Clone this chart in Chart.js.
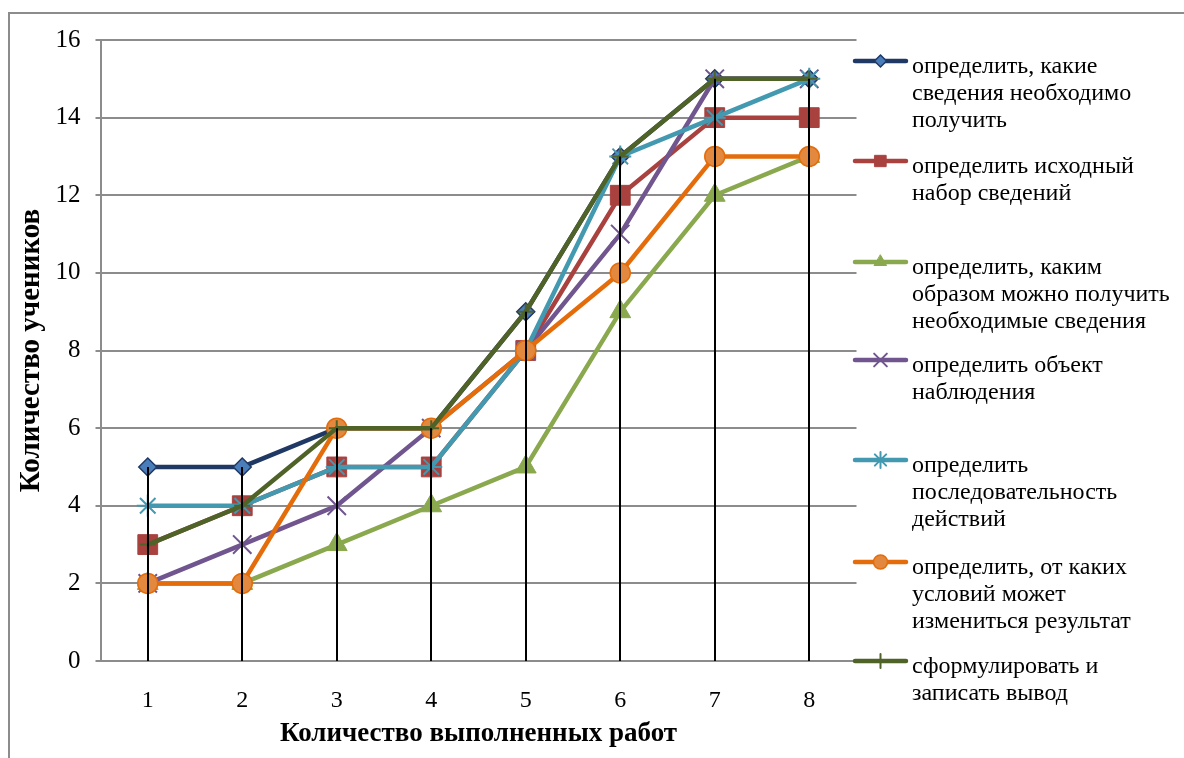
<!DOCTYPE html>
<html><head><meta charset="utf-8">
<script src="https://cdn.jsdelivr.net/npm/chart.js@4.4.0/dist/chart.umd.min.js"></script>
<style>
html,body{margin:0;padding:0;background:#fff;width:1184px;height:758px;overflow:hidden}
#frame{position:absolute;left:8px;top:12px;width:1300px;height:900px;border-left:2px solid #8c8c8c;border-top:2px solid #8c8c8c;}
canvas{position:absolute;left:0;top:0}
</style></head><body>
<div id="frame"></div>
<canvas id="c" width="1184" height="758"></canvas>
<script>
const categories = ['1','2','3','4','5','6','7','8'];
const yTicks = [0,2,4,6,8,10,12,14,16];
const sInfoNeeded   = [5,5,6,6,9,13,15,15];
const sInitialSet   = [3,4,5,5,8,12,14,14];
const sHowToGet     = [2,2,3,4,5,9,12,13];
const sObject       = [2,3,4,6,8,11,15,15];
const sSequence     = [4,4,5,5,8,13,14,15];
const sConditions   = [2,2,6,6,8,10,13,13];
const sConclusion   = [3,4,6,6,9,13,15,15];
const seriesNames = [
  ['определить, какие','сведения необходимо','получить'],
  ['определить исходный','набор сведений'],
  ['определить, каким','образом можно получить','необходимые сведения'],
  ['определить объект','наблюдения'],
  ['определить','последовательность','действий'],
  ['определить, от каких','условий может','измениться результат'],
  ['сформулировать и','записать вывод']
];
const xTitle = 'Количество выполненных работ';
const yTitle = 'Количество учеников';

const allSeries = [sInfoNeeded,sInitialSet,sHowToGet,sObject,sSequence,sConditions,sConclusion];
const styles = [
  {line:'#1F3864', fill:'#4A7EBB', stroke:'#1F3864', pt:'rectRot', r:9, bw:1.5, lr:6},
  {line:'#A9423F', fill:'#A9423F', stroke:'#A9423F', pt:'rect', r:14, bw:1, lr:8},
  {line:'#8AA84D', fill:'#8AA84D', stroke:'#8AA84D', pt:'triangle', r:12, bw:1, lr:7},
  {line:'#70558F', fill:'#70558F', stroke:'#70558F', pt:'crossRot', r:13, bw:2, lr:9},
  {line:'#4399B0', fill:'#4399B0', stroke:'#4399B0', pt:'star', r:11, bw:2, lr:8},
  {line:'#E46C0A', fill:'#E2893F', stroke:'#E46C0A', pt:'circle', r:10, bw:1.5, lr:7},
  {line:'#4F6228', fill:'#4F6228', stroke:'#4F6228', pt:'cross', r:8, bw:2, lr:7}
];
const legendFirstLine = [67,167,268,366,466,568,667];

function drawMarker(ctx, st, x, y, r) {
  ctx.save();
  ctx.fillStyle = st.fill; ctx.strokeStyle = st.stroke; ctx.lineWidth = st.bw;
  ctx.beginPath();
  const q = r*Math.SQRT1_2;
  switch (st.pt) {
    case 'rectRot': ctx.moveTo(x-r,y);ctx.lineTo(x,y-r);ctx.lineTo(x+r,y);ctx.lineTo(x,y+r);ctx.closePath();ctx.fill();ctx.stroke();break;
    case 'rect': ctx.rect(x-q,y-q,2*q,2*q);ctx.fill();ctx.stroke();break;
    case 'triangle': ctx.moveTo(x,y-r);ctx.lineTo(x+r*0.87,y+r*0.5);ctx.lineTo(x-r*0.87,y+r*0.5);ctx.closePath();ctx.fill();ctx.stroke();break;
    case 'circle': ctx.arc(x,y,r,0,Math.PI*2);ctx.fill();ctx.stroke();break;
    case 'crossRot': ctx.moveTo(x-q,y-q);ctx.lineTo(x+q,y+q);ctx.moveTo(x+q,y-q);ctx.lineTo(x-q,y+q);ctx.stroke();break;
    case 'star': ctx.moveTo(x-q,y-q);ctx.lineTo(x+q,y+q);ctx.moveTo(x+q,y-q);ctx.lineTo(x-q,y+q);ctx.moveTo(x,y-r);ctx.lineTo(x,y+r);ctx.stroke();break;
    case 'cross': ctx.moveTo(x,y-r);ctx.lineTo(x,y+r);ctx.moveTo(x-r,y);ctx.lineTo(x+r,y);ctx.stroke();break;
  }
  ctx.restore();
}

const dropLines = {
  id:'dropLines',
  afterDatasetsDraw(chart){
    const {ctx, scales:{x,y}} = chart;
    ctx.save(); ctx.strokeStyle='#000'; ctx.lineWidth=2;
    categories.forEach((c,i)=>{
      const m = Math.max(...allSeries.map(s=>s[i]));
      const px = Math.round(x.getPixelForValue(i));
      ctx.beginPath(); ctx.moveTo(px, y.getPixelForValue(m)); ctx.lineTo(px, y.getPixelForValue(0)); ctx.stroke();
    });
    ctx.restore();
  }
};

const legendPlugin = {
  id:'customLegend',
  afterDraw(chart){
    const ctx = chart.ctx;
    ctx.save();
    seriesNames.forEach((lines,i)=>{
      const st = styles[i];
      const base = legendFirstLine[i] + 6;
      const my = base - 12;
      ctx.strokeStyle = st.line; ctx.lineWidth = 4.5; ctx.lineCap='round';
      ctx.beginPath(); ctx.moveTo(855, my); ctx.lineTo(906, my); ctx.stroke();
      drawMarker(ctx, st, 880.5, my, st.lr);
      ctx.fillStyle = '#000';
      ctx.font = '24px "Liberation Serif"';
      ctx.textBaseline = 'alphabetic'; ctx.textAlign='left';
      lines.forEach((t,k)=> ctx.fillText(t, 912, base + k*27));
    });
    ctx.restore();
  }
};

const datasets = allSeries.map((s,i)=>({
  label: seriesNames[i].join(' '),
  data: s,
  borderColor: styles[i].line,
  backgroundColor: styles[i].fill,
  borderWidth: 4.5,
  pointStyle: styles[i].pt,
  pointRadius: styles[i].r,
  pointBackgroundColor: styles[i].fill,
  pointBorderColor: styles[i].stroke,
  pointBorderWidth: styles[i].bw,
  tension: 0,
  order: allSeries.length - i
}));

new Chart(document.getElementById('c'), {
  type:'line',
  data:{labels:categories, datasets},
  options:{
    responsive:false, animation:false, devicePixelRatio:1,
    layout:{padding:{left:0,right:327.5,top:40,bottom:0}},
    plugins:{legend:{display:false}, tooltip:{enabled:false}},
    scales:{
      x:{
        offset:true,
        grid:{display:false, drawTicks:false},
        border:{display:true,color:'#8c8c8c',width:2},
        ticks:{font:{family:'Liberation Serif',size:24},color:'#000',padding:25,maxRotation:0},
        title:{display:true,text:xTitle,font:{family:'Liberation Serif',size:27,weight:'bold'},color:'#000',padding:{top:0,bottom:8}},
        afterFit(s){ s.height = 97; }
      },
      y:{
        min:0,max:16,
        afterBuildTicks(s){ s.ticks = yTicks.map(v=>({value:v})); },
        ticks:{font:{family:'Liberation Serif',size:25},color:'#000',padding:15},
        grid:{color:'#8c8c8c',lineWidth:2,tickLength:5,drawTicks:true},
        border:{display:true,color:'#8c8c8c',width:2},
        title:{display:true,text:yTitle,font:{family:'Liberation Serif',size:29,weight:'bold'},color:'#000',padding:{top:14,bottom:0}},
        afterFit(s){ s.width = 100.5; }
      }
    }
  },
  plugins:[dropLines, legendPlugin]
});
</script>
</body></html>
